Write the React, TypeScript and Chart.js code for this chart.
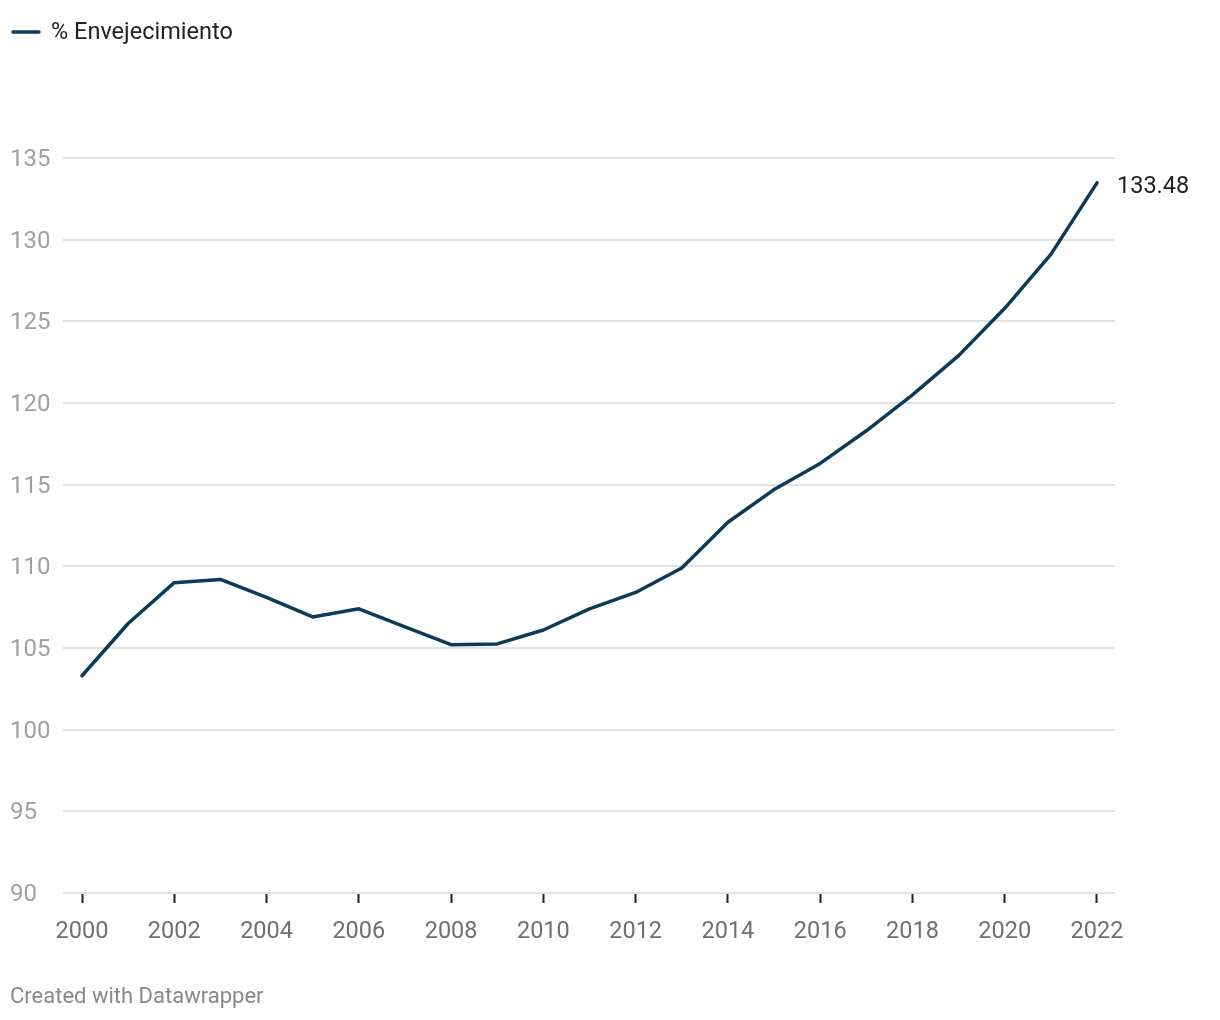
import React, { useEffect, useRef } from "react";
import { Chart, registerables } from "chart.js";

Chart.register(...registerables);

const years = [2000, 2001, 2002, 2003, 2004, 2005, 2006, 2007, 2008, 2009, 2010, 2011, 2012, 2013, 2014, 2015, 2016, 2017, 2018, 2019, 2020, 2021, 2022];
const envejecimiento = [103.3, 106.5, 109.0, 109.2, 108.1, 106.9, 107.4, 106.3, 105.2, 105.25, 106.1, 107.4, 108.4, 109.9, 112.7, 114.7, 116.3, 118.3, 120.5, 122.9, 125.8, 129.1, 133.48];
const xTickYears = [2000, 2002, 2004, 2006, 2008, 2010, 2012, 2014, 2016, 2018, 2020, 2022];
const yTicks = [90, 95, 100, 105, 110, 115, 120, 125, 130, 135];
const seriesLabel = "% Envejecimiento";
const endLabel = "133.48";
const footerText = "Created with Datawrapper";

const LINE_COLOR = "#0b3a5c";
const FONT = "Roboto, 'Noto Sans', sans-serif";

export default function App() {
  const ref = useRef<HTMLCanvasElement | null>(null);

  useEffect(() => {
    if (!ref.current) return;
    const decor = {
      id: "decor",
      afterDraw(chart: any) {
        const ctx = chart.ctx;
        const xs = chart.scales.x;
        const ys = chart.scales.y;
        ctx.save();
        // legend
        ctx.strokeStyle = LINE_COLOR;
        ctx.lineWidth = 3.5;
        ctx.lineCap = "round";
        ctx.beginPath();
        ctx.moveTo(5, 24);
        ctx.lineTo(31, 24);
        ctx.stroke();
        ctx.fillStyle = "#222";
        ctx.font = `23.5px ${FONT}`;
        ctx.textBaseline = "middle";
        ctx.textAlign = "left";
        ctx.fillText(seriesLabel, 43, 25);
        // end label
        const lastIdx = envejecimiento.length - 1;
        const px = xs.getPixelForValue(years[lastIdx]);
        const py = ys.getPixelForValue(envejecimiento[lastIdx]);
        ctx.fillStyle = "#222";
        ctx.font = `23.5px ${FONT}`;
        ctx.fillText(endLabel, px + 20, py + 4);
        // footer
        ctx.fillStyle = "#888";
        ctx.font = `22px ${FONT}`;
        ctx.fillText(footerText, 2, 989);
        ctx.restore();
      },
    };

    const chart = new Chart(ref.current, {
      type: "line",
      data: {
        datasets: [
          {
            label: seriesLabel,
            data: years.map((y, i) => ({ x: y, y: envejecimiento[i] })),
            borderColor: LINE_COLOR,
            borderWidth: 3.5,
            pointRadius: 0,
            tension: 0,
            fill: false,
            borderJoinStyle: "round",
            borderCapStyle: "round",
          },
        ],
      },
      options: {
        animation: false,
        responsive: false,
        devicePixelRatio: 1,
        layout: { padding: { left: 2, right: 97, top: 150, bottom: 59 } },
        plugins: { legend: { display: false }, tooltip: { enabled: false } },
        scales: {
          x: {
            type: "linear",
            min: 2000 - 19 / 46.136,
            max: 2022 + 18 / 46.136,
            afterBuildTicks: (s: any) => {
              s.ticks = xTickYears.map((v) => ({ value: v }));
            },
            afterFit: (s: any) => {
              s.height = 60;
            },
            border: { display: false },
            grid: {
              drawOnChartArea: false,
              drawTicks: true,
              tickLength: 10,
              tickColor: "#222",
              tickWidth: 2,
            },
            ticks: {
              autoSkip: false,
              maxRotation: 0,
              padding: 15,
              color: "#707070",
              font: { family: FONT, size: 23.5 },
              callback: (v: any) => String(v),
            },
          },
          y: {
            min: 90,
            max: 135,
            afterBuildTicks: (s: any) => {
              s.ticks = yTicks.map((v) => ({ value: v }));
            },
            afterFit: (s: any) => {
              s.width = 53;
            },
            border: { display: false },
            grid: {
              drawTicks: false,
              color: "#e2e2e2",
              lineWidth: 2,
            },
            ticks: {
              crossAlign: "far",
              padding: 0,
              color: "#a0a0a0",
              font: { family: FONT, size: 24 },
              labelOffset: 2,
              callback: (v: any) => String(v),
            },
          },
        },
      },
      plugins: [decor],
    } as any);
    return () => chart.destroy();
  }, []);

  return (
    <div style={{ width: 1204, height: 1004 }}>
      <canvas ref={ref} width={1204} height={1004} style={{ width: 1204, height: 1004, display: "block" }} />
    </div>
  );
}
